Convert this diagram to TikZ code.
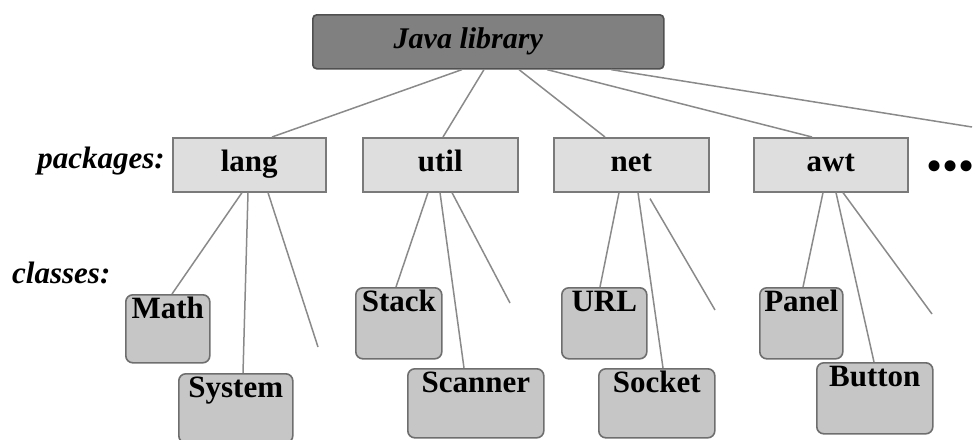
\documentclass[tikz,border=0pt]{standalone}
\usepackage{fontspec}
\setmainfont{Liberation Serif}
\usetikzlibrary{calc}
\definecolor{javafill}{HTML}{808080}
\definecolor{javaline}{HTML}{505050}
\definecolor{pkgfill}{HTML}{DEDEDE}
\definecolor{pkgline}{HTML}{7A7A7A}
\definecolor{clsfill}{HTML}{C6C6C6}
\definecolor{clsline}{HTML}{6E6E6E}
\definecolor{conn}{HTML}{8A8A8A}
\tikzset{
  javabox/.style={draw=javaline, fill=javafill, line width=1.6pt, rounded corners=4pt,
    anchor=north west, minimum width=351pt, minimum height=54pt, inner sep=0pt,
    font=\fontsize{30}{34}\selectfont\bfseries\itshape},
  pkgbox/.style={draw=pkgline, fill=pkgfill, line width=1.6pt,
    anchor=north west, minimum height=54pt, inner sep=0pt,
    text height=20pt, text depth=6pt,
    font=\fontsize{31}{36}\selectfont\bfseries},
  clsbox/.style={draw=clsline, fill=clsfill, line width=1.6pt, rounded corners=7pt,
    anchor=north west, inner xsep=0pt, inner ysep=3pt, text height=21pt,
    font=\fontsize{31}{36}\selectfont\bfseries},
  sidelabel/.style={inner sep=0pt, font=\fontsize{31}{36}\selectfont\bfseries\itshape},
  link/.style={draw=conn, line width=1.5pt}
}
\begin{document}
\begin{tikzpicture}[x=1pt, y=-1pt]
\useasboundingbox (0,0) rectangle (977,439);

% root
\node[javabox] (java) at (312,14) {\hspace*{-40pt}Java library};

% packages
\node[pkgbox, minimum width=153pt] (lang) at (172,137) {lang};
\node[pkgbox, minimum width=155pt] (util) at (362,137) {util};
\node[pkgbox, minimum width=155pt] (net)  at (553,137) {net};
\node[pkgbox, minimum width=154pt] (awt)  at (753,137) {awt};

\node[sidelabel, anchor=east] (pkglabel) at ([xshift=-7pt, yshift=4pt]lang.west) {packages:};
\node[sidelabel, anchor=west] (clslabel) at (12,273) {classes:};
\node[inner sep=0pt, anchor=west, font=\fontsize{46}{50}\selectfont] (dots) at (926,171) {•••};

% classes
\node[clsbox, minimum width=84pt,  text depth=41pt] (math)    at (125,294) {Math};
\node[clsbox, minimum width=114pt, text depth=42pt] (system)  at (178,373) {System};
\node[clsbox, minimum width=86pt,  text depth=44pt] (stack)   at (355,287) {Stack};
\node[clsbox, minimum width=136pt, text depth=42pt] (scanner) at (407,368) {Scanner};
\node[clsbox, minimum width=85pt,  text depth=44pt] (url)     at (561,287) {URL};
\node[clsbox, minimum width=116pt, text depth=42pt] (socket)  at (598,368) {Socket};
\node[clsbox, minimum width=83pt,  text depth=44pt] (panel)   at (759,287) {Panel};
\node[clsbox, minimum width=116pt, text depth=44pt] (button)  at (816,362) {Button};

% free ends
\coordinate (rootmore) at (972,127);
\coordinate (langmore) at (318,347);
\coordinate (utilmore) at (510,303);
\coordinate (netmore)  at (715,310);
\coordinate (awtmore)  at (932,314);

% root connectors
\draw[link] ([xshift=150pt]java.south west) -- ([xshift=100pt]lang.north west);
\draw[link] ([xshift=172pt]java.south west) -- ([xshift=81pt]util.north west);
\draw[link] ([xshift=207pt]java.south west) -- ([xshift=52pt]net.north west);
\draw[link] ([xshift=235pt]java.south west) -- ([xshift=59pt]awt.north west);
\draw[link] ([xshift=299pt]java.south west) -- (rootmore);

% lang
\draw[link] ([xshift=70pt]lang.south west) -- ([xshift=47pt]math.north west);
\draw[link] ([xshift=76pt]lang.south west) -- ([xshift=65pt]system.north west);
\draw[link] ([xshift=96pt]lang.south west) -- (langmore);
% util
\draw[link] ([xshift=66pt]util.south west) -- ([xshift=41pt]stack.north west);
\draw[link] ([xshift=78pt]util.south west) -- ([xshift=57pt]scanner.north west);
\draw[link] ([xshift=90pt]util.south west) -- (utilmore);
% net
\draw[link] ([xshift=66pt]net.south west) -- ([xshift=39pt]url.north west);
\draw[link] ([xshift=85pt]net.south west) -- ([xshift=65pt]socket.north west);
\draw[link] ([xshift=97pt, yshift=-6pt]net.south west) -- (netmore);
% awt
\draw[link] ([xshift=70pt]awt.south west) -- ([xshift=44pt]panel.north west);
\draw[link] ([xshift=83pt]awt.south west) -- ([xshift=58pt]button.north west);
\draw[link] ([xshift=90pt]awt.south west) -- (awtmore);
\end{tikzpicture}
\end{document}
